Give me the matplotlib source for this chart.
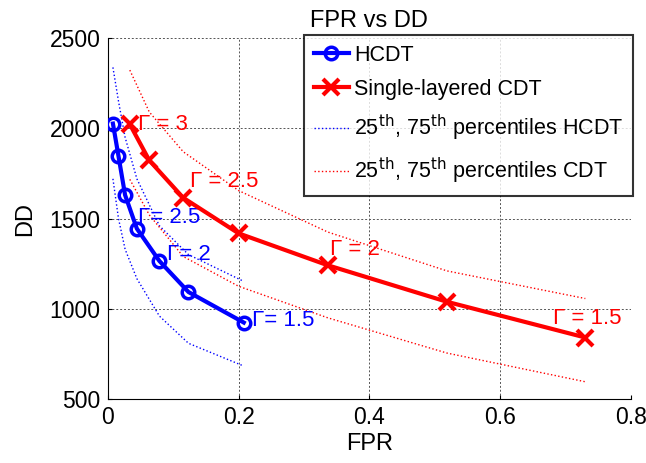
import matplotlib.pyplot as plt
from matplotlib.ticker import FuncFormatter

plt.rcParams['font.family'] = ['Liberation Sans', 'DejaVu Sans']

# HCDT operating points (FPR, DD) and their 25th/75th percentile bands
hcdt_fpr = [0.008, 0.0165, 0.0266, 0.0446, 0.079, 0.1235, 0.208]
hcdt_dd = [2026, 1846, 1630, 1444, 1265, 1093, 924]
hcdt_p75 = [2337, 2150, 1950, 1720, 1460, 1300, 1152]
hcdt_p25 = [1720, 1500, 1330, 1167, 960, 809, 683]

# single-layered CDT
cdt_fpr = [0.0338, 0.0636, 0.1154, 0.2, 0.3365, 0.5185, 0.730]
cdt_dd = [2022, 1822, 1615, 1418, 1241, 1039, 841]
cdt_p75 = [2322, 2090, 1870, 1655, 1425, 1210, 1057]
cdt_p25 = [1717, 1520, 1290, 1125, 950, 755, 596]

# gamma annotations: (text, x, y)
cdt_notes = [('Γ = 3', 0.047, 2022), ('Γ = 2.5', 0.126, 1707),
             ('Γ = 2', 0.340, 1328), ('Γ = 1.5', 0.680, 948)]
hcdt_notes = [('Γ= 2.5', 0.047, 1507), ('Γ= 2', 0.090, 1300),
              ('Γ= 1.5', 0.220, 935)]

fig = plt.figure(figsize=(6.46, 4.63), dpi=100)
ax = fig.add_axes([0.1667, 0.138, 0.8103, 0.78])

ax.plot(hcdt_fpr, hcdt_dd, 'o-', color='#0000ff', lw=3, ms=9,
        mfc='none', mew=2.5, label='HCDT', zorder=4)
ax.plot(cdt_fpr, cdt_dd, 'x-', color='#ff0000', lw=3, ms=11,
        mew=3, label='Single-layered CDT', zorder=4)
ax.plot(hcdt_fpr, hcdt_p75, ':', color='#0000ff', lw=1,
        label=r'25$^{\rm th}$, 75$^{\rm th}$ percentiles HCDT')
ax.plot(hcdt_fpr, hcdt_p25, ':', color='#0000ff', lw=1)
ax.plot(cdt_fpr, cdt_p75, ':', color='#ff0000', lw=1,
        label=r'25$^{\rm th}$, 75$^{\rm th}$ percentiles CDT')
ax.plot(cdt_fpr, cdt_p25, ':', color='#ff0000', lw=1)

for txt, x, y in cdt_notes:
    ax.text(x, y, txt, color='#ff0000', fontsize=16, va='center', ha='left')
for txt, x, y in hcdt_notes:
    ax.text(x, y, txt, color='#0000ff', fontsize=16, va='center', ha='left')

ax.set_xlim(0, 0.8)
ax.set_ylim(500, 2500)
ax.set_xticks([0, 0.2, 0.4, 0.6, 0.8])
ax.set_yticks([500, 1000, 1500, 2000, 2500])
ax.xaxis.set_major_formatter(FuncFormatter(lambda v, p: '0' if v == 0 else f'{v:g}'))
ax.grid(True, linestyle=(0, (2, 2)), color='#555555', lw=0.7)
ax.tick_params(labelsize=16.5, direction='in', length=3, pad=5)
for side in ('top', 'right'):
    ax.spines[side].set_visible(False)
ax.set_xlabel('FPR', fontsize=17, labelpad=3)
ax.set_ylabel('DD', fontsize=17, labelpad=10)
ax.set_title('FPR vs DD', fontsize=17, pad=8)

leg = ax.legend(loc='upper right', bbox_to_anchor=(0.98, 0.924),
                bbox_transform=fig.transFigure, borderaxespad=0,
                fontsize=15.5, frameon=True, fancybox=False, edgecolor='black',
                handlelength=1.6, handletextpad=0.25, borderpad=0.45,
                labelspacing=0.6)
leg.get_frame().set_linewidth(1.5)

fig.savefig('out.png', dpi=100)
